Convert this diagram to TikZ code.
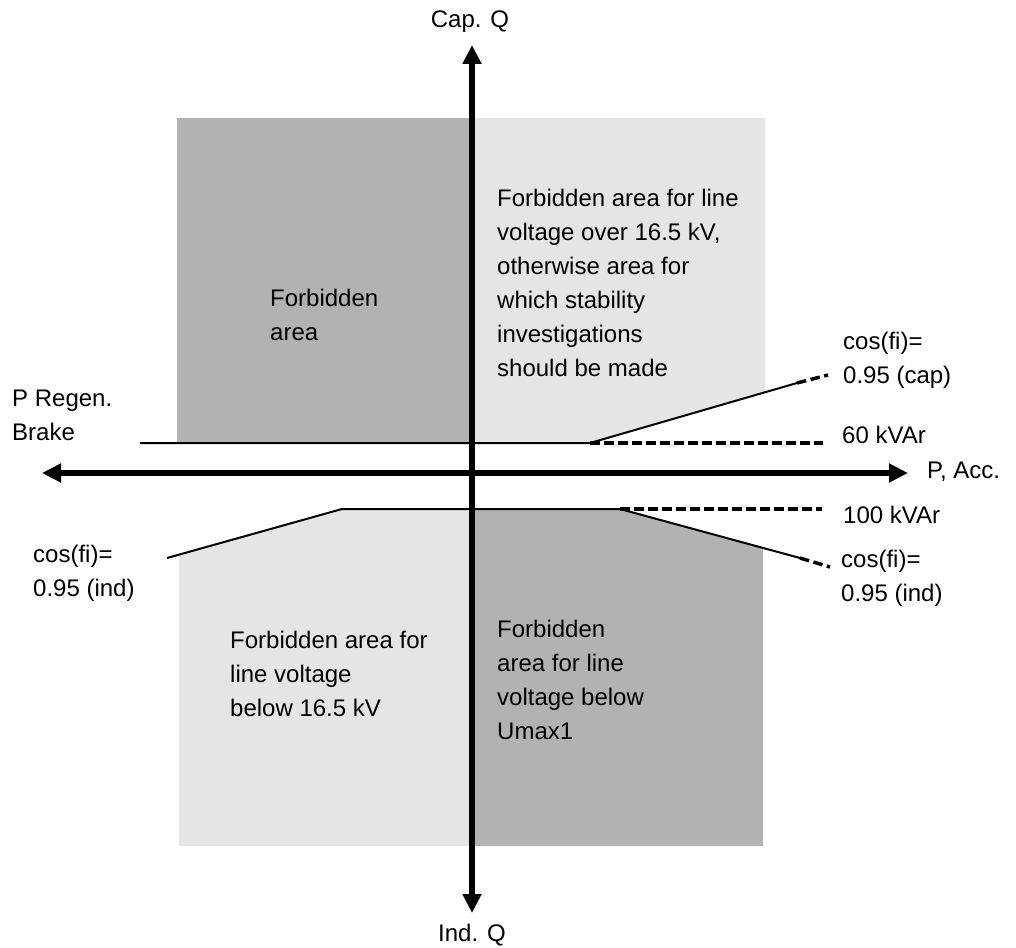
\documentclass[tikz,border=0pt]{standalone}
\usepackage{fontspec}
\setmainfont{Liberation Sans}
\usetikzlibrary{arrows.meta}

\begin{document}
\begin{tikzpicture}[x=1pt,y=-1pt,
  axis/.style={line width=5.5pt,{Triangle[length=19pt,width=18pt]}-{Triangle[length=19pt,width=18pt]}},
  lim/.style={line width=2pt},
  ext/.style={line width=3.5pt,dash pattern=on 9.5pt off 4.5pt},
  lbl/.style={font=\fontsize{24}{34}\selectfont,inner sep=0pt,align=left},
  dark/.style={fill=black!30},
  light/.style={fill=black!10}]
  \useasboundingbox (0,0) rectangle (1016,947);
  \fill[dark]  (177,118) rectangle (472,443);
  \fill[light] (472,118) -- (765,118) -- (765,392) -- (590,443) -- (472,443) -- cycle;
  \fill[light] (179,555) -- (342,509) -- (472,509) -- (472,846) -- (179,846) -- cycle;
  \fill[dark]  (472,509) -- (620,509) -- (763,548) -- (763,846) -- (472,846) -- cycle;

  \coordinate (qtop) at (472,45);  \coordinate (qbot) at (472,913);
  \coordinate (pl) at (42,473);    \coordinate (pr) at (908,473);
  \coordinate (cap0) at (140,443); \coordinate (cap1) at (590,443);
  \coordinate (cap2) at (823,443); \coordinate (cap3) at (797,383);
  \coordinate (cap4) at (828,375);
  \coordinate (ind0) at (167,558); \coordinate (ind1) at (342,509);
  \coordinate (ind2) at (620,509); \coordinate (ind3) at (822,509);
  \coordinate (ind4) at (800,558); \coordinate (ind5) at (830,567);

  \draw[lim] (cap0) -- (cap1) -- (cap3);
  \draw[lim] (ind0) -- (ind1) -- (ind2) -- (ind4);
  \foreach \a/\b in {cap1/cap2,cap3/cap4,ind2/ind3,ind4/ind5}
    \draw[ext] (\a) -- (\b);
  \draw[axis] (qbot) -- (qtop);
  \draw[axis] (pl) -- (pr);

  \node[lbl] (capq) at (470,22) {Cap. Q};
  \node[lbl] (indq) at (472,935) {Ind. Q};
  \node[lbl,anchor=west] (pacc) at (927,472) {P, Acc.};
  \node[lbl,anchor=west] (preg) at (12,415) {P Regen.\\Brake};
  \node[lbl,anchor=west] (kvar60) at (842,435) {60 kVAr};
  \node[lbl,anchor=west] (kvar100) at (843,515) {100 kVAr};
  \node[lbl,anchor=west] (coscap) at (843,360) {cos(fi)=\\0.95 (cap)};
  \node[lbl,anchor=west] (cosindr) at (841,578) {cos(fi)=\\0.95 (ind)};
  \node[lbl,anchor=west] (cosindl) at (33,573) {cos(fi)=\\0.95 (ind)};
  \node[lbl,anchor=west] (fa) at (270,315) {Forbidden\\area};
  \node[lbl,anchor=west] (faover) at (497,283) {Forbidden area for line\\voltage over 16.5 kV,\\otherwise area for\\which stability\\investigations\\should be made};
  \node[lbl,anchor=west] (fabelow) at (230,674) {Forbidden area for\\line voltage\\below 16.5 kV};
  \node[lbl,anchor=west] (faumax) at (497,680) {Forbidden\\area for line\\voltage below\\Umax1};
\end{tikzpicture}
\end{document}
